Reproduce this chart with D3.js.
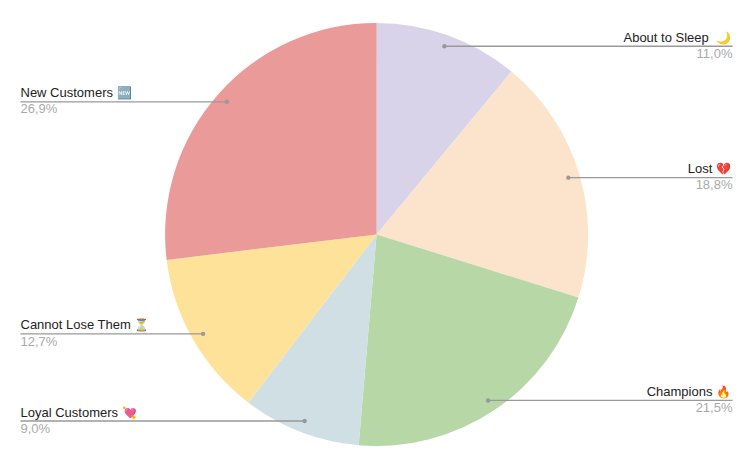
<!DOCTYPE html>
<html><head><meta charset="utf-8">
<script src="https://cdn.jsdelivr.net/npm/d3@7"></script>
<style>html,body{margin:0;padding:0;background:#fff}svg{display:block}</style>
</head><body><div id="chart"></div>
<script>
const categories = ["About to Sleep\u00a0","Lost","Champions","Loyal Customers","Cannot Lose Them","New Customers"];
const emojis = ["🌙","💔","🔥","💘","⏳","🆕"];
const values = [11.0,18.8,21.5,9.0,12.7,26.9];
const valueLabels = ["11,0%","18,8%","21,5%","9,0%","12,7%","26,9%"];
const colors = ["#d9d3ea","#fce4cc","#b7d7a7","#cfdfe3","#fee29a","#ea9a99"];

const W=750,H=457,cx=376.6,cy=234.4,R=211.5,anchorR=200,leftX=20.5,rightX=732.5;
const svg=d3.select("#chart").append("svg").attr("width",W).attr("height",H);
const pie=d3.pie().value(d=>d).sort(null)(values);
const arc=d3.arc().innerRadius(0).outerRadius(R);
const g=svg.append("g").attr("transform",`translate(${cx},${cy})`);
g.selectAll("path").data(pie).join("path").attr("d",arc).attr("fill",(d,i)=>colors[i]);
const pts=pie.map(d=>{const a=(d.startAngle+d.endAngle)/2;return {x:cx+anchorR*Math.sin(a),y:cy-anchorR*Math.cos(a),right:a<Math.PI};});
const lab=svg.append("g").attr("font-family","'Liberation Sans',Arial,sans-serif");
pts.forEach((p,i)=>{
  const ex=p.right?rightX:leftX, anchor=p.right?"end":"start";
  lab.append("line").attr("x1",p.x).attr("y1",p.y).attr("x2",ex).attr("y2",p.y).attr("stroke","#999").attr("stroke-width",1.3);
  lab.append("circle").attr("cx",p.x).attr("cy",p.y).attr("r",2.2).attr("fill","#999");
  const t=lab.append("text").attr("x",p.right?ex-1.5:ex).attr("y",p.y-4.5).attr("text-anchor",anchor).attr("font-size",13).attr("fill","#222");
  t.append("tspan").text(categories[i]+" ");
  t.append("tspan").attr("font-size",12).text(emojis[i]);
  lab.append("text").attr("x",ex).attr("y",p.y+11.7).attr("text-anchor",anchor).attr("font-size",13).attr("fill","#aaa").text(valueLabels[i]);
});
</script></body></html>
